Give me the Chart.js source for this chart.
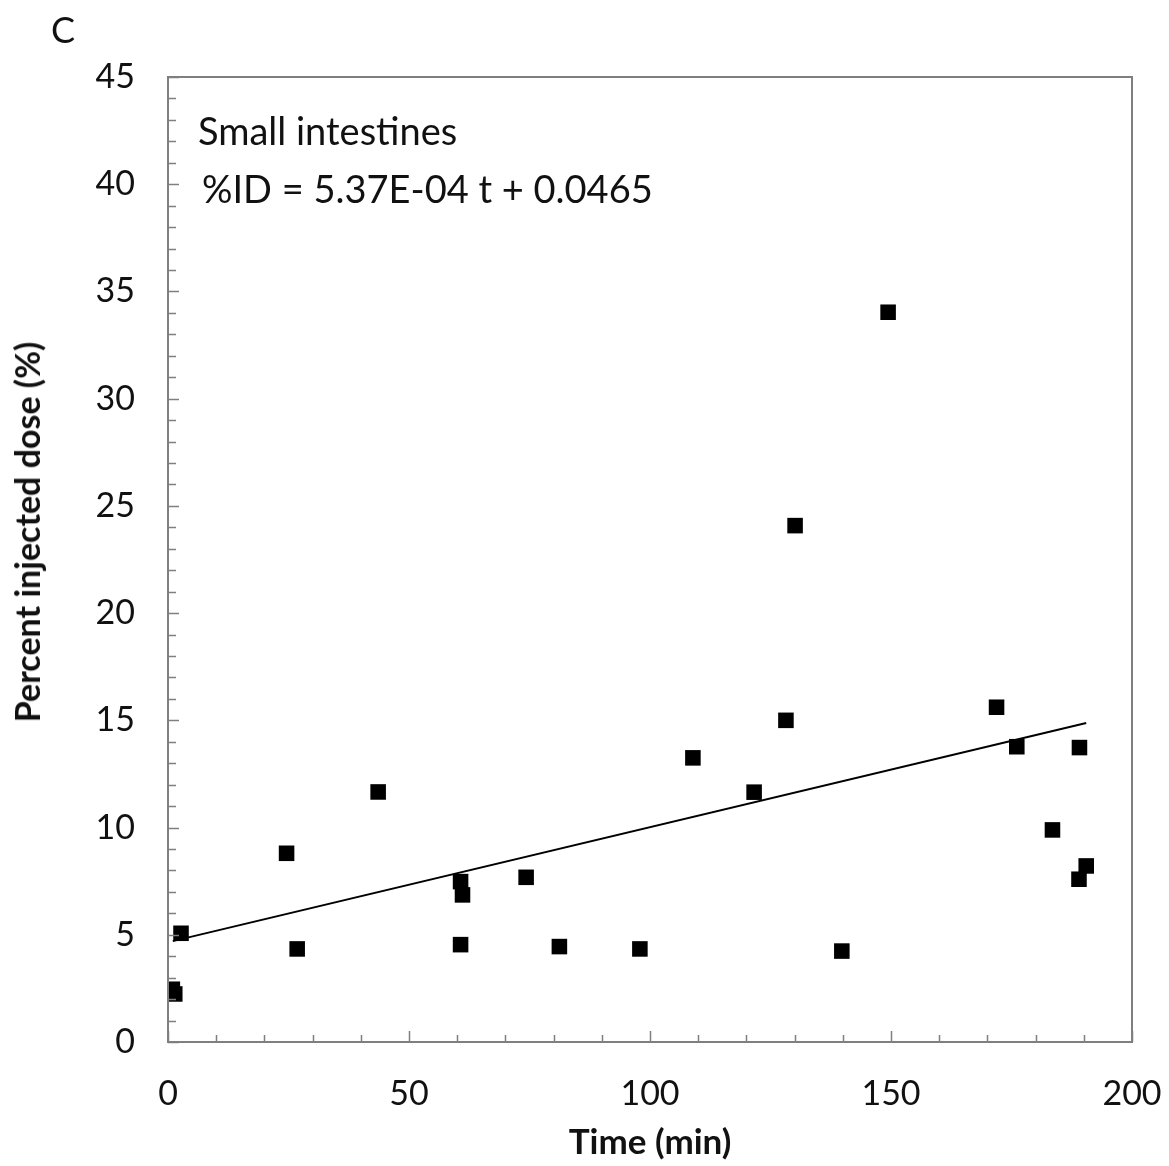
<!DOCTYPE html>
<html lang="en">
<head>
<meta charset="UTF-8">
<title>Small intestines</title>
<script src="https://cdn.jsdelivr.net/npm/chart.js"></script>
<style>
    body { margin: 0; background: #fff; }
    .wrap { position: relative; width: 1169px; height: 1166px; }
    .note {
        position: absolute;
        font-family: Lato, "Open Sans", sans-serif;
        color: #111;
        white-space: nowrap;
        line-height: 1;
    }
    .ytitle {
        left: 27px;
        top: 532px;
        font-size: 34px;
        font-weight: bold;
        transform: translate(-50%, -50%) rotate(-90deg);
    }
</style>
</head>
<body>
<div class="wrap">
    <canvas id="chart" width="1169" height="1166"></canvas>
    <div class="note" style="left:51px; top:11px; font-size:36px;">C</div>
    <div class="note" style="left:198px; top:111px; font-size:38px;">Small intestines</div>
    <div class="note" style="left:202px; top:169px; font-size:38px;">%ID = 5.37E-04 t + 0.0465</div>
    <div class="note ytitle">Percent injected dose (%)</div>
</div>

<script>
    // measured points (time in min, % injected dose)
    const timeMin = [0.9, 1.4, 2.7, 24.6, 26.8, 43.6, 60.7, 61.1, 60.7, 74.3, 81.2, 97.9,
                     108.9, 121.6, 128.2, 130.1, 149.4, 139.8, 171.9, 176.1, 183.5, 189.1, 189.0, 190.5];
    const percentDose = [2.46, 2.24, 5.07, 8.8, 4.34, 11.66, 7.48, 6.86, 4.54, 7.68, 4.45, 4.34,
                         13.25, 11.65, 15.0, 24.08, 34.03, 4.24, 15.61, 13.77, 9.89, 13.73, 7.59, 8.21];

    // linear fit from the figure: %ID = 5.37E-04 t + 0.0465 (fraction)
    const fitSlope = 5.37e-4;
    const fitIntercept = 0.0465;
    const fitTime = [1, 190.5];

    const xTicks = [0, 50, 100, 150, 200];
    const yTicks = [0, 5, 10, 15, 20, 25, 30, 35, 40, 45];

    const points = timeMin.map((t, i) => ({ x: t, y: percentDose[i] }));
    const fitLine = fitTime.map(t => ({ x: t, y: (fitSlope * t + fitIntercept) * 100 }));

    const tickFont = { family: 'Lato, "Open Sans", sans-serif', size: 34 };
    const titleFont = { family: 'Lato, "Open Sans", sans-serif', size: 35, weight: 'bold' };

    // box around the plot and small inward ticks like the original
    const frameTicks = {
        id: 'frameTicks',
        afterDraw(chart) {
            const ctx = chart.ctx;
            const a = chart.chartArea;
            const xs = chart.scales.x, ys = chart.scales.y;
            ctx.save();
            ctx.strokeStyle = '#7f7f7f';
            ctx.lineWidth = 2;
            ctx.strokeRect(a.left, a.top, a.right - a.left, a.bottom - a.top);
            ctx.lineWidth = 1.5;
            ctx.beginPath();
            for (let v = 0; v <= 200; v += 10) {
                const px = Math.round(xs.getPixelForValue(v)) + 0.5;
                const len = v % 50 === 0 ? 11 : 7;
                ctx.moveTo(px, a.bottom);
                ctx.lineTo(px, a.bottom - len);
            }
            for (let v = 0; v <= 45; v += 1) {
                const py = Math.round(ys.getPixelForValue(v)) + 0.5;
                const len = v % 5 === 0 ? 11 : 8;
                ctx.moveTo(a.left, py);
                ctx.lineTo(a.left + len, py);
            }
            ctx.stroke();
            ctx.restore();
        }
    };

    new Chart(document.getElementById('chart'), {
        type: 'scatter',
        data: {
            datasets: [
                {
                    label: 'Small intestines',
                    data: points,
                    pointStyle: 'rect',
                    pointRadius: 11,
                    pointHoverRadius: 11,
                    backgroundColor: '#000',
                    borderColor: '#000',
                    borderWidth: 0
                },
                {
                    label: 'Fit',
                    type: 'line',
                    data: fitLine,
                    borderColor: '#000',
                    borderWidth: 2,
                    pointRadius: 0,
                    fill: false
                }
            ]
        },
        options: {
            responsive: false,
            animation: false,
            layout: { padding: { left: 0, top: 77, right: 37, bottom: 0 } },
            plugins: {
                legend: { display: false },
                tooltip: { enabled: false }
            },
            scales: {
                x: {
                    type: 'linear',
                    min: 0,
                    max: 200,
                    afterBuildTicks: s => { s.ticks = xTicks.map(v => ({ value: v })); },
                    afterFit: s => { s.height = 124; s.paddingLeft = 0; s.paddingRight = 0; },
                    grid: { display: false },
                    border: { display: false },
                    ticks: { font: tickFont, color: '#111', padding: 24, maxRotation: 0 },
                    title: { display: true, text: 'Time (min)', font: titleFont, color: '#111', padding: { top: 0, bottom: 2 } }
                },
                y: {
                    type: 'linear',
                    min: 0,
                    max: 45,
                    afterBuildTicks: s => { s.ticks = yTicks.map(v => ({ value: v })); },
                    afterFit: s => { s.width = 168; s.paddingTop = 0; s.paddingBottom = 0; },
                    grid: { display: false },
                    border: { display: false },
                    ticks: { font: tickFont, color: '#111', padding: 25 }
                }
            }
        },
        plugins: [frameTicks]
    });
</script>
</body>
</html>
